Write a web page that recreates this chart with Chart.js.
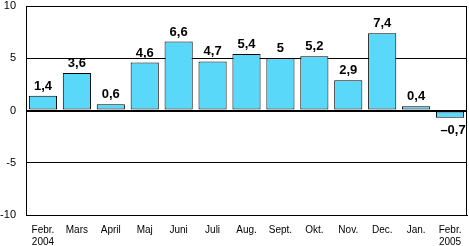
<!DOCTYPE html>
<html>
<head>
<meta charset="utf-8">
<script src="https://cdn.jsdelivr.net/npm/chart.js@4/dist/chart.umd.min.js"></script>
<style>
html,body{margin:0;padding:0;background:#fff;}
#wrap{width:469px;height:246px;position:relative;}
</style>
</head>
<body>
<div id="wrap"><canvas id="c" width="469" height="246"></canvas></div>
<script>
const categories = [["Febr.","2004"],"Mars","April","Maj","Juni","Juli","Aug.","Sept.","Okt.","Nov.","Dec.","Jan.",["Febr.","2005"]];
const values = [1.4, 3.6, 0.6, 4.6, 6.6, 4.7, 5.4, 5.0, 5.2, 2.9, 7.4, 0.4, -0.7];
const valueLabels = ["1,4","3,6","0,6","4,6","6,6","4,7","5,4","5","5,2","2,9","7,4","0,4","\u20130,7"];
const yTicks = [-10, -5, 0, 5, 10];

const labelPlugin = {
  id: 'valueLabels',
  afterDatasetsDraw(chart) {
    const ctx = chart.ctx;
    const meta = chart.getDatasetMeta(0);
    ctx.save();
    ctx.font = 'bold 13px "Liberation Sans", Arial, sans-serif';
    ctx.fillStyle = '#000';
    ctx.textAlign = 'center';
    meta.data.forEach((bar, i) => {
      const v = values[i];
      if (v >= 0) {
        ctx.textBaseline = 'bottom';
        ctx.fillText(valueLabels[i], bar.x, bar.y - 3);
      } else {
        ctx.textBaseline = 'top';
        ctx.fillText(valueLabels[i], bar.x + 3, bar.y + 6);
      }
    });
    ctx.restore();
  }
};

const framePlugin = {
  id: 'frame',
  afterDraw(chart) {
    const a = chart.chartArea;
    const ctx = chart.ctx;
    ctx.save();
    ctx.strokeStyle = '#000';
    ctx.lineWidth = 1;
    ctx.beginPath();
    ctx.moveTo(Math.round(a.right) - 0.5, a.top);
    ctx.lineTo(Math.round(a.right) - 0.5, a.bottom);
    ctx.stroke();
    ctx.restore();
  }
};

new Chart(document.getElementById('c'), {
  type: 'bar',
  data: {
    labels: categories,
    datasets: [{
      data: values,
      backgroundColor: '#5AD8FA',
      borderColor: '#000',
      borderWidth: 1,
      borderSkipped: false,
      barPercentage: 0.83,
      categoryPercentage: 1.0
    }]
  },
  options: {
    responsive: false,
    animation: false,
    events: [],
    layout: { padding: { top: 6, right: 2, left: 0, bottom: 0 } },
    plugins: { legend: { display: false }, tooltip: { enabled: false } },
    scales: {
      x: {
        grid: { display: false, drawTicks: false },
        border: { display: true, color: '#000', width: 1 },
        ticks: {
          color: '#000',
          font: { family: '"Liberation Sans", Arial, sans-serif', size: 10 },
          maxRotation: 0, autoSkip: false, padding: 9
        },
        afterFit(scale) { scale.height = 31; scale.paddingLeft = 0; scale.paddingRight = 0; }
      },
      y: {
        min: -10, max: 10,
        afterBuildTicks(scale) { scale.ticks = yTicks.map(v => ({ value: v })); },
        grid: {
          color: '#000',
          lineWidth: ctx => (ctx.tick && ctx.tick.value === 0) ? 2 : 1,
          drawTicks: false
        },
        border: { display: true, color: '#000', width: 1 },
        ticks: {
          color: '#000',
          font: { family: '"Liberation Sans", Arial, sans-serif', size: 11 },
          padding: 10
        },
        afterFit(scale) { scale.width = 26; scale.paddingTop = 0; scale.paddingBottom = 0; }
      }
    }
  },
  plugins: [labelPlugin, framePlugin]
});
</script>
</body>
</html>
